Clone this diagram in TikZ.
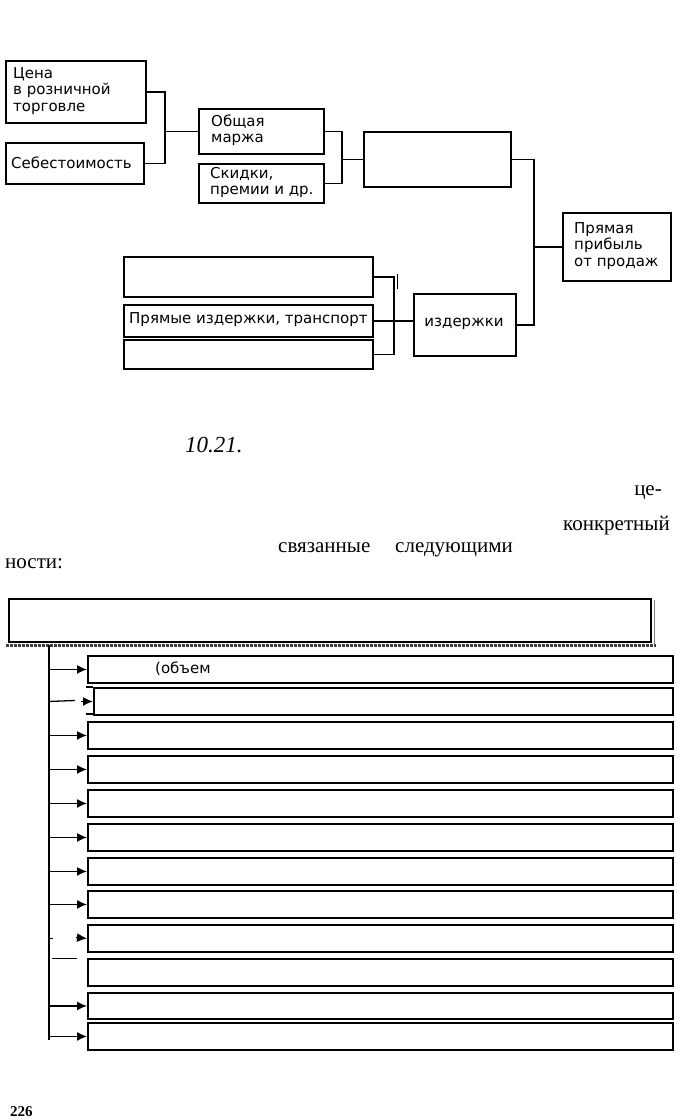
\documentclass[tikz,border=0pt]{standalone}
\usepackage{fontspec}
\setmainfont{Liberation Serif}
\newfontfamily\boxfont{DejaVu Sans}
\usetikzlibrary{arrows.meta}
\tikzset{
  bx/.style={draw, line width=1.9pt, rectangle, inner sep=0pt, anchor=north west},
  lbl/.style={font=\boxfont\fontsize{15}{16.2}\selectfont, align=left, anchor=west, inner sep=0pt},
  conn/.style={line width=1.4pt},
  arr/.style={line width=1.3pt, -{Latex[length=10pt,width=9pt]}},
  body/.style={font=\fontsize{21}{23}\selectfont, inner sep=0pt, anchor=base west}
}
\begin{document}
\begin{tikzpicture}[x=1pt,y=-1pt]
\useasboundingbox (0,0) rectangle (698,1120);
% ---------- top diagram ----------
\node[bx, minimum width=140pt, minimum height=62pt] (cena) at (5,60) {};
\node[lbl] (cenat) at (13,91) {Цена\\в розничной\\торговле};
\node[bx, minimum width=138pt, minimum height=41pt] (seb) at (5,142) {};
\node[lbl] (sebt) at (11,162.5) {Себестоимость};
\node[bx, minimum width=125pt, minimum height=45pt] (marzha) at (198,108) {};
\node[lbl] (marzhat) at (211,130.5) {Общая\\маржа};
\node[bx, minimum width=125pt, minimum height=39pt] (skidki) at (198,163) {};
\node[lbl] (skidkit) at (210,182.5) {Скидки,\\премии и др.};
\node[bx, minimum width=147pt, minimum height=55pt] (empty1) at (363,131) {};
\node[bx, minimum width=108pt, minimum height=68pt] (pryam) at (562,212) {};
\node[lbl] (pryamt) at (574,246) {Прямая\\прибыль\\от продаж};
\node[bx, minimum width=249pt, minimum height=40pt] (ba) at (123,256) {};
\node[bx, minimum width=249pt, minimum height=32pt] (bb) at (123,304) {};
\node[lbl] (bbt) at (129,320) {Прямые издержки, транспорт};
\node[bx, minimum width=249pt, minimum height=29pt] (bc) at (123,339) {};
\node[bx, minimum width=102pt, minimum height=62pt] (izd) at (413,293) {};
\node[lbl, anchor=center] (izdt) at (464,324) {издержки};

\draw[conn] (cena.east) -- ++(18,0) coordinate (j1) |- (seb.east);
\draw[conn] (marzha.west) -- (marzha.west -| j1);
\draw[conn] (marzha.east) -- ++(17,0) coordinate (j2) |- (skidki.east);
\draw[conn] (empty1.west) -- (empty1.west -| j2);
\draw[conn] (empty1.east) -- ++(22,0) coordinate (j3) |- (izd.east);
\draw[conn] (pryam.west) -- (pryam.west -| j3);
\draw[conn] (ba.east) -- ++(20,0) coordinate (j4) |- (bc.east);
\draw[conn] (bb.east) -- (bb.east -| izd.west);
\coordinate (tk1) at (397,274);
\coordinate (tk2) at (397,289);
\draw[line width=1pt] (tk1) -- (tk2);

% ---------- text ----------
\node[body, font=\itshape\fontsize{23}{25}\selectfont] (fig) at (185,452) {10.21.};
\node[body, anchor=base east] (t1) at (662,495) {це-};
\node[body, anchor=base east] (t2) at (670,530) {конкретный};
\node[body] (t3) at (278,552) {связанные};
\node[body] (t4) at (395,552) {следующими};
\node[body] (t5) at (5,568) {ности:};

% ---------- bottom list ----------
\node[bx, minimum width=642pt, minimum height=43pt] (big) at (8,598) {};
\draw[black!75, line width=2.5pt, dash pattern=on 3pt off 1pt] (6,645.5) -- (656,645.5);
\draw[gray, line width=1pt] (654,600) -- (654,645);
\coordinate (trtop) at (49,645);
\coordinate (trbot) at (49,1040);
\draw[conn] (trtop) -- (trbot);

\foreach \i/\y/\h in {1/655/27, 3/721/27, 4/755/27, 5/789/27, 6/823/27, 7/857/27, 8/890/27, 9/924/27, 10/958/27, 11/992/26, 12/1022/27}{
  \node[bx, minimum width=585pt, minimum height=\h pt] (li\i) at (87,\y) {};
}
\node[bx, minimum width=579pt, minimum height=27pt] (li2) at (93,687) {};
\draw[line width=1.9pt] (86,687) -- (93,687);
\draw[line width=1.9pt] (86,714) -- (93,714);
\node[lbl] (li1t) at (155,668.5) {(объем};

\foreach \i in {1,3,4,5,6,7,8,11,12}{
  \draw[arr] (li\i.west -| trtop) -- (li\i.west);
}
\coordinate (a2) at (75,700.5);
\draw[line width=1.3pt] (li2.west -| trtop) -- (a2);
\draw[arr] ([xshift=-12pt]li2.west) -- (li2.west);
\coordinate (a9) at (76,937.5);
\draw[arr] (a9) -- (li9.west);
\draw[line width=1pt] (li9.west -| trtop) -- ++(4,0);
\coordinate (a10a) at (52,958);
\coordinate (a10b) at (77,958);
\draw[line width=1pt] (a10a) -- (a10b);

\node[font=\bfseries\fontsize{15}{17}\selectfont, anchor=north west, inner sep=0pt] (pg) at (10,1106) {226};
\end{tikzpicture}
\end{document}
